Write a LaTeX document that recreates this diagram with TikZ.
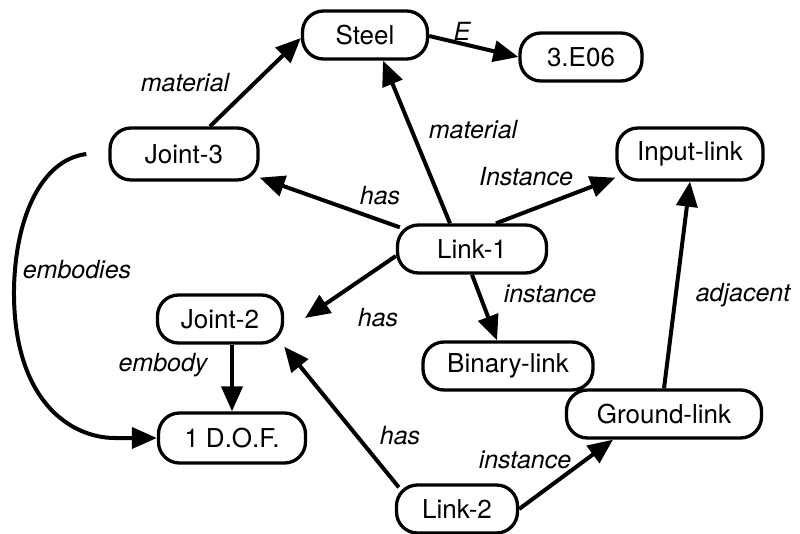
\documentclass[tikz,border=0pt]{standalone}
\usepackage{fontspec}
\setmainfont{TeX Gyre Heros}
\usetikzlibrary{arrows.meta,calc}

\tikzset{
  concept/.style={draw, line width=3.3pt, rounded corners=21pt, minimum height=48pt,
    inner sep=0pt, font=\fontsize{26}{30}\selectfont},
  rel/.style={line width=4pt, -{Triangle[length=25pt,width=21pt]}},
  lbl/.style={font=\fontsize{25}{29}\selectfont\itshape, inner sep=0pt},
}

\begin{document}
\begin{tikzpicture}[x=1pt,y=-1pt]
\useasboundingbox (0,0) rectangle (800,534);

% concepts
\node[concept, minimum width=125pt] (steel)  at (365,35)  {Steel};
\node[concept, minimum width=122pt] (e06)    at (581,57)  {3.E06};
\node[concept, minimum width=146pt, minimum height=52pt] (input) at (690,154) {Input-link};
\node[concept, minimum width=148pt, minimum height=52pt] (joint3) at (184,154) {Joint-3};
\node[concept, minimum width=149pt] (link1)  at (472,249) {Link-1};
\node[concept, minimum width=125pt] (joint2) at (220,319) {Joint-2};
\node[concept, minimum width=170pt] (binary) at (508,366) {Binary-link};
\node[concept, minimum width=147pt, minimum height=50pt] (dof) at (232,438) {1 D.O.F.};
\node[concept, minimum width=195pt] (ground) at (664,414) {Ground-link};
\node[concept, minimum width=121pt] (link2)  at (457,509) {Link-2};

% free end of the second "has" arrow and start of the curved link
\coordinate (hasend) at (305,318);
\coordinate (embstart) at ([xshift=-22pt]joint3.west);

% relations
\draw[rel] ([xshift=26pt]joint3.north) -- ([yshift=-3pt]steel.west);
\draw[rel] ([yshift=-1pt]steel.east) -- (e06.west);
\draw[rel] ([xshift=-22pt]link1.north) -- ([xshift=18pt]steel.south);
\draw[rel] ([xshift=4pt,yshift=-4pt]link1.north west) -- ([yshift=4pt]joint3.south east);
\draw[rel] ([xshift=24pt]link1.north) -- ([yshift=4pt]input.south west);
\draw[rel] ([yshift=-7pt]link1.west) -- (hasend);
\draw[rel] (link1.south) -- ([xshift=-11pt]binary.north);
\draw[rel] (ground.north) -- (input.south);
\draw[rel] ([xshift=12pt]joint2.south) -- (dof.north);
\draw[rel] (embstart) .. controls (40,160) and (15,220) .. (14,290)
  .. controls (13,400) and (70,438) .. (115,438) -- (dof.west);
\draw[rel] ([xshift=4pt,yshift=-4pt]link2.north west) -- ([yshift=-2pt]joint2.south east);
\draw[rel] (link2.east) -- ([xshift=-51pt]ground.south);

% relation labels
\node[lbl] (lmat1) at (185,83)  {material};
\node[lbl] (lE)    at (462,31)  {E};
\node[lbl] (lmat2) at (473,130) {material};
\node[lbl] (linst1) at (526,177) {Instance};
\node[lbl] (lhas1) at (380,196) {has};
\node[lbl] (lhas2) at (378,318) {has};
\node[lbl] (linst2) at (550,294) {instance};
\node[lbl] (ladj)  at (743,295) {adjacent};
\node[lbl] (lemb)  at (77,270)  {embodies};
\node[lbl] (lemby) at (163,365) {embody};
\node[lbl] (lhas3) at (400,436) {has};
\node[lbl] (linst3) at (525,460) {instance};
\end{tikzpicture}
\end{document}
